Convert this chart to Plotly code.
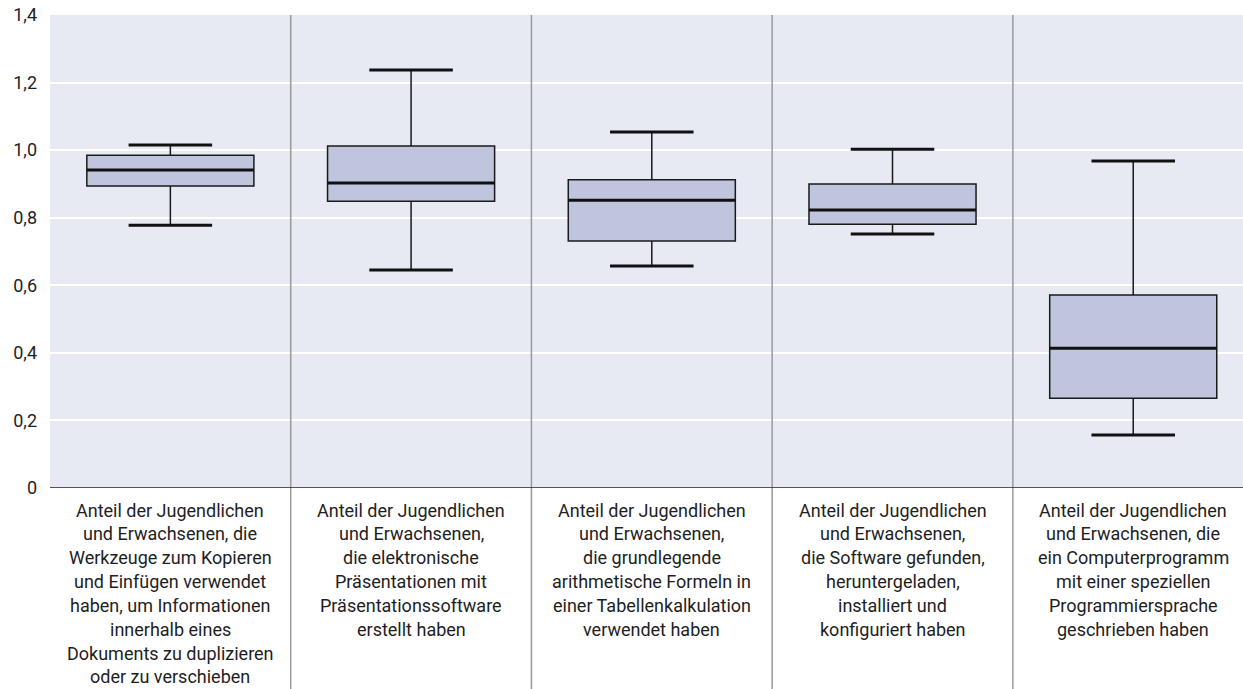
import plotly.graph_objects as go

# Kategorien (Beschriftung unter der x-Achse)
categories = [
    "Anteil der Jugendlichen<br>und Erwachsenen, die<br>Werkzeuge zum Kopieren<br>und Einfügen verwendet<br>haben, um Informationen<br>innerhalb eines<br>Dokuments zu duplizieren<br>oder zu verschieben",
    "Anteil der Jugendlichen<br>und Erwachsenen,<br>die elektronische<br>Präsentationen mit<br>Präsentationssoftware<br>erstellt haben",
    "Anteil der Jugendlichen<br>und Erwachsenen,<br>die grundlegende<br>arithmetische Formeln in<br>einer Tabellenkalkulation<br>verwendet haben",
    "Anteil der Jugendlichen<br>und Erwachsenen,<br>die Software gefunden,<br>heruntergeladen,<br>installiert und<br>konfiguriert haben",
    "Anteil der Jugendlichen<br>und Erwachsenen, die<br>ein Computerprogramm<br>mit einer speziellen<br>Programmiersprache<br>geschrieben haben",
]

# Kennwerte der Verteilungen
lower_whisker = [0.778, 0.645, 0.657, 0.752, 0.157]
q1 = [0.894, 0.849, 0.731, 0.781, 0.266]
median = [0.941, 0.903, 0.852, 0.823, 0.414]
q3 = [0.985, 1.012, 0.912, 0.900, 0.571]
upper_whisker = [1.015, 1.237, 1.054, 1.003, 0.968]

y_tickvals = [0, 0.2, 0.4, 0.6, 0.8, 1.0, 1.2, 1.4]
y_ticktext = ["0", "0,2", "0,4", "0,6", "0,8", "1,0", "1,2", "1,4"]

FONT = "Roboto, Liberation Sans, sans-serif"
TEXT_COLOR = "#1e1e1e"
BOX_W = 0.694
CAP_HALF = BOX_W / 4
MED_HALF = BOX_W / 2
LINE_STEP = 23.85   # Zeilenabstand der Kategorietexte in px

xs = list(range(len(categories)))
fig = go.Figure()

fig.add_trace(go.Box(
    x=xs, q1=q1, median=median, q3=q3,
    lowerfence=lower_whisker, upperfence=upper_whisker,
    width=BOX_W, fillcolor="#bec5dd",
    line=dict(color="#1a1a1a", width=1.5),
    whiskerwidth=0, boxpoints=False, showlegend=False, hoverinfo="skip",
))

# Whisker-Enden und Median als kräftige Linien
cap_x, cap_y, med_x, med_y = [], [], [], []
for i in xs:
    for v in (lower_whisker[i], upper_whisker[i]):
        cap_x += [i - CAP_HALF, i + CAP_HALF, None]
        cap_y += [v, v, None]
    med_x += [i - MED_HALF, i + MED_HALF, None]
    med_y += [median[i], median[i], None]

fig.add_trace(go.Scatter(x=cap_x, y=cap_y, mode="lines",
                         line=dict(color="#111111", width=3),
                         showlegend=False, hoverinfo="skip"))
fig.add_trace(go.Scatter(x=med_x, y=med_y, mode="lines",
                         line=dict(color="#111111", width=3),
                         showlegend=False, hoverinfo="skip"))

# Trennlinien zwischen den Kategorien
for i in xs[:-1]:
    fig.add_shape(type="line", xref="x", yref="paper",
                  x0=i + 0.5, x1=i + 0.5, y0=-0.43, y1=1,
                  line=dict(color="#9a9a9a", width=1.5), layer="above")

# Kategorietexte zeilenweise, damit der Zeilenabstand frei wählbar ist
for i, txt in enumerate(categories):
    for k, line in enumerate(txt.split("<br>")):
        fig.add_annotation(x=i, y=0, xref="x", yref="y", text=line,
                           showarrow=False, yanchor="middle",
                           yshift=-(22 + k * LINE_STEP), align="center",
                           font=dict(family=FONT, size=18, color=TEXT_COLOR))

fig.update_layout(
    width=1243, height=689,
    margin=dict(l=50, r=0, t=15, b=201),
    paper_bgcolor="white", plot_bgcolor="#e7eaf2",
    font=dict(family=FONT, size=18, color=TEXT_COLOR),
    xaxis=dict(range=[-0.5, 4.456], showticklabels=False, showgrid=False,
               zeroline=False, fixedrange=True),
    yaxis=dict(range=[0, 1.4], tickvals=y_tickvals, ticktext=y_ticktext,
               showgrid=True, gridcolor="white", gridwidth=2,
               zeroline=False, showline=False, ticks="", ticklabelstandoff=12,
               fixedrange=True),
)

fig.add_shape(type="line", xref="paper", yref="y", x0=0, x1=1, y0=0, y1=0,
              line=dict(color="#222222", width=1.5), layer="above")

fig.write_html("out.html")
